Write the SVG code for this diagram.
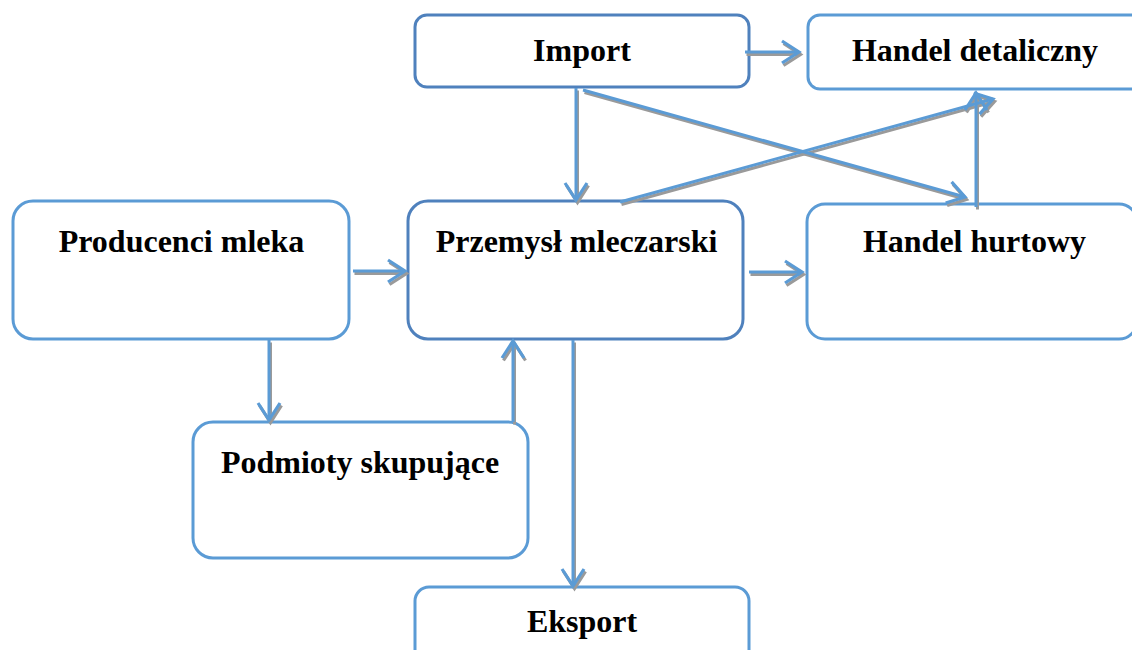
<svg xmlns="http://www.w3.org/2000/svg" xmlns:xlink="http://www.w3.org/1999/xlink" width="1132" height="650" viewBox="0 0 1132 650">
<style>
.box{fill:#fff;stroke:#5b9bd5;stroke-width:3}
.dark{stroke:#4f81bd}
.lbl{font-family:"Liberation Serif","Times New Roman",serif;font-weight:bold;font-size:32px;fill:#000;text-anchor:middle}
.ln{fill:none;stroke:#5b9bd5;stroke-width:3;marker-end:url(#ah)}
.sh{fill:none;stroke:#9a9a9a;stroke-width:3;marker-end:url(#ahs)}
</style>
<defs>
<marker id="ah" markerUnits="userSpaceOnUse" viewBox="-20 -13 24 26" refX="0" refY="0" markerWidth="24" markerHeight="26" orient="auto" overflow="visible">
<path d="M-17,-11 L0,0 L-17,11" fill="none" stroke="#5b9bd5" stroke-width="3.2"/>
</marker>
<marker id="ahs" markerUnits="userSpaceOnUse" viewBox="-20 -13 24 26" refX="0" refY="0" markerWidth="24" markerHeight="26" orient="auto" overflow="visible">
<path d="M-17,-11 L0,0 L-17,11" fill="none" stroke="#9a9a9a" stroke-width="3.2"/>
</marker>
<path id="c1" d="M745,52 L799,52"/>
<path id="c2" d="M576,88 L576,200"/>
<path id="c3" d="M583,90 L965,197"/>
<path id="c4" d="M620,202 L993,99"/>
<path id="c5" d="M976,207 L976,93"/>
<path id="c6" d="M353,271 L405,271"/>
<path id="c7" d="M749,272 L802,272"/>
<path id="c8" d="M269,340 L269,420"/>
<path id="c9" d="M513,422 L513,341"/>
<path id="c10" d="M573,340 L573,586"/>
</defs>

<g id="node-import"><rect class="box dark" x="415" y="15" width="334" height="72" rx="12"/><text class="lbl" x="582" y="61">Import</text></g>
<g id="node-handel-detaliczny"><rect class="box" x="808" y="15" width="345" height="74" rx="12"/><text class="lbl" x="975" y="61">Handel detaliczny</text></g>
<g id="node-producenci"><rect class="box" x="13" y="201" width="336" height="138" rx="20"/><text class="lbl" x="181.5" y="252">Producenci mleka</text></g>
<g id="node-przemysl"><rect class="box dark" x="408" y="201" width="335" height="138" rx="20"/><text class="lbl" x="576.5" y="252">Przemysł mleczarski</text></g>
<g id="node-handel-hurtowy"><rect class="box" x="807" y="204" width="330" height="135" rx="18"/><text class="lbl" x="974.5" y="252">Handel hurtowy</text></g>
<g id="node-podmioty"><rect class="box" x="193" y="422" width="335" height="136" rx="20"/><text class="lbl" x="360" y="473">Podmioty skupujące</text></g>
<g id="node-eksport"><rect class="box" x="415" y="587" width="334" height="80" rx="14"/><text class="lbl" x="582" y="632">Eksport</text></g>

<g id="connectors">
<g transform="translate(1.5,2.5)">
<use xlink:href="#c1" class="sh"/><use xlink:href="#c2" class="sh"/><use xlink:href="#c3" class="sh"/><use xlink:href="#c4" class="sh"/><use xlink:href="#c5" class="sh"/><use xlink:href="#c6" class="sh"/><use xlink:href="#c7" class="sh"/><use xlink:href="#c8" class="sh"/><use xlink:href="#c9" class="sh"/><use xlink:href="#c10" class="sh"/>
</g>
<use xlink:href="#c1" class="ln"/><use xlink:href="#c2" class="ln"/><use xlink:href="#c3" class="ln"/><use xlink:href="#c4" class="ln"/><use xlink:href="#c5" class="ln"/><use xlink:href="#c6" class="ln"/><use xlink:href="#c7" class="ln"/><use xlink:href="#c8" class="ln"/><use xlink:href="#c9" class="ln"/><use xlink:href="#c10" class="ln"/>
</g>
</svg>
